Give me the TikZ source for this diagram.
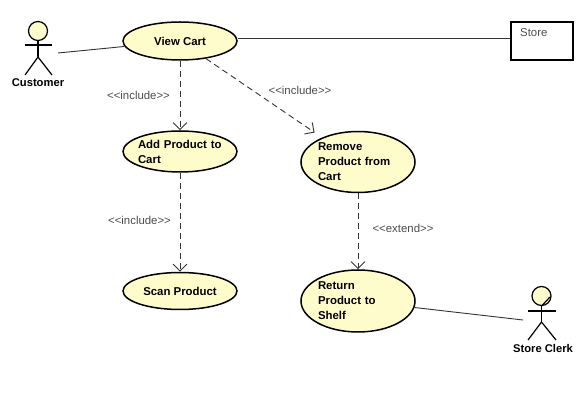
\documentclass[tikz,border=0pt]{standalone}
\usepackage{fontspec}
\setmainfont{Liberation Sans}
\usetikzlibrary{arrows.meta,shapes.geometric}

\tikzset{
    usecase/.style={shape=ellipse,draw=black,fill=yellow!20,line width=1.5pt,
        inner ysep=0pt,inner xsep=-5pt,minimum width=114pt,font=\fontsize{11.4}{15}\selectfont\bfseries},
    actorpart/.style={draw=black,line width=1.2pt},
    actorname/.style={font=\fontsize{11.2}{12}\selectfont\bfseries},
    link/.style={draw=black!80,line width=0.9pt},
    dep/.style={draw=black!80,line width=0.9pt,dash pattern=on 6pt off 4pt,
        -{Straight Barb[length=7pt,width=14pt,line width=0.9pt]}},
    stereo/.style={text=black!70,font=\fontsize{11.4}{13}\selectfont}
}

\begin{document}
\begin{tikzpicture}[x=1pt,y=-1pt]
            \useasboundingbox (0,0) rectangle (587,419);

            \node (viewCart)[usecase,minimum height=38pt,align=center]
                at (180, 41) {View Cart};
            \node (addProduct)[usecase,minimum height=41pt,text width=84pt,align=left]
                at (180, 151.5) {Add Product to\\Cart};
            \node (scanProduct)[usecase,minimum height=37pt,align=center]
                at (180, 291) {Scan Product};
            \node (removeProduct)[usecase,minimum height=61pt,text width=80pt,align=left]
                at (358, 162) {Remove\\Product from\\Cart};
            \node (returnProduct)[usecase,minimum height=62pt,text width=80pt,align=left]
                at (358, 301) {Return\\Product to\\Shelf};
            \node (store)[shape=rectangle,draw=black,line width=2pt,minimum width=62pt,minimum height=38pt]
                at (542, 41) {};
            \node (storeName)[anchor=west,inner sep=0pt,text=black!70,font=\fontsize{11.4}{13}\selectfont]
                at (520, 33) {Store};

            % customer
            \node (customerHead)[shape=circle,draw=black,fill=yellow!20,line width=1.2pt,
                inner sep=0pt,minimum size=19pt] at (38, 31) {};
            \coordinate (customerHip) at (38, 57);
            \coordinate (customerEnd) at (58, 53);
            \draw[actorpart] (customerHead.south) -- (customerHip);
            \draw[actorpart] (25, 45) -- (52, 45);
            \draw[actorpart] (25, 75) -- (customerHip) -- (52, 75);
            \node (customer)[actorname] at (38, 83) {Customer};

            % store clerk
            \node (clerkHead)[shape=circle,draw=black,fill=yellow!20,line width=1.2pt,
                inner sep=0pt,minimum size=19pt] at (541.5, 296) {};
            \coordinate (clerkHip) at (541.5, 322);
            \coordinate (clerkEnd) at (523, 320);
            \draw[actorpart] (550, 297) -- (clerkHead.south);
            \draw[actorpart] (clerkHead.south) -- (clerkHip);
            \draw[actorpart] (528, 311) -- (556, 311);
            \draw[actorpart] (528, 340) -- (clerkHip) -- (556, 340);
            \node (clerk)[actorname] at (543, 348) {Store Clerk};

            \path[link] (customerEnd) -- (viewCart);
            \path[link] ([yshift=2.5pt]viewCart.east) -- ([yshift=2.5pt]store.west);
            \path[link] (returnProduct) -- (clerkEnd);

            \path[dep] (viewCart) -- (addProduct);
            \path[dep,shorten >=9pt] (viewCart) -- (removeProduct);
            \path[dep] (addProduct) -- (scanProduct);
            \path[dep] (removeProduct) -- (returnProduct);

            \node (includeAdd)[stereo] at (138.5, 95) {<{}<include>{}>};
            \node (includeRemove)[stereo] at (300, 90) {<{}<include>{}>};
            \node (includeScan)[stereo] at (139.5, 220) {<{}<include>{}>};
            \node (extendReturn)[stereo] at (403, 228) {<{}<extend>{}>};
\end{tikzpicture}
\end{document}
